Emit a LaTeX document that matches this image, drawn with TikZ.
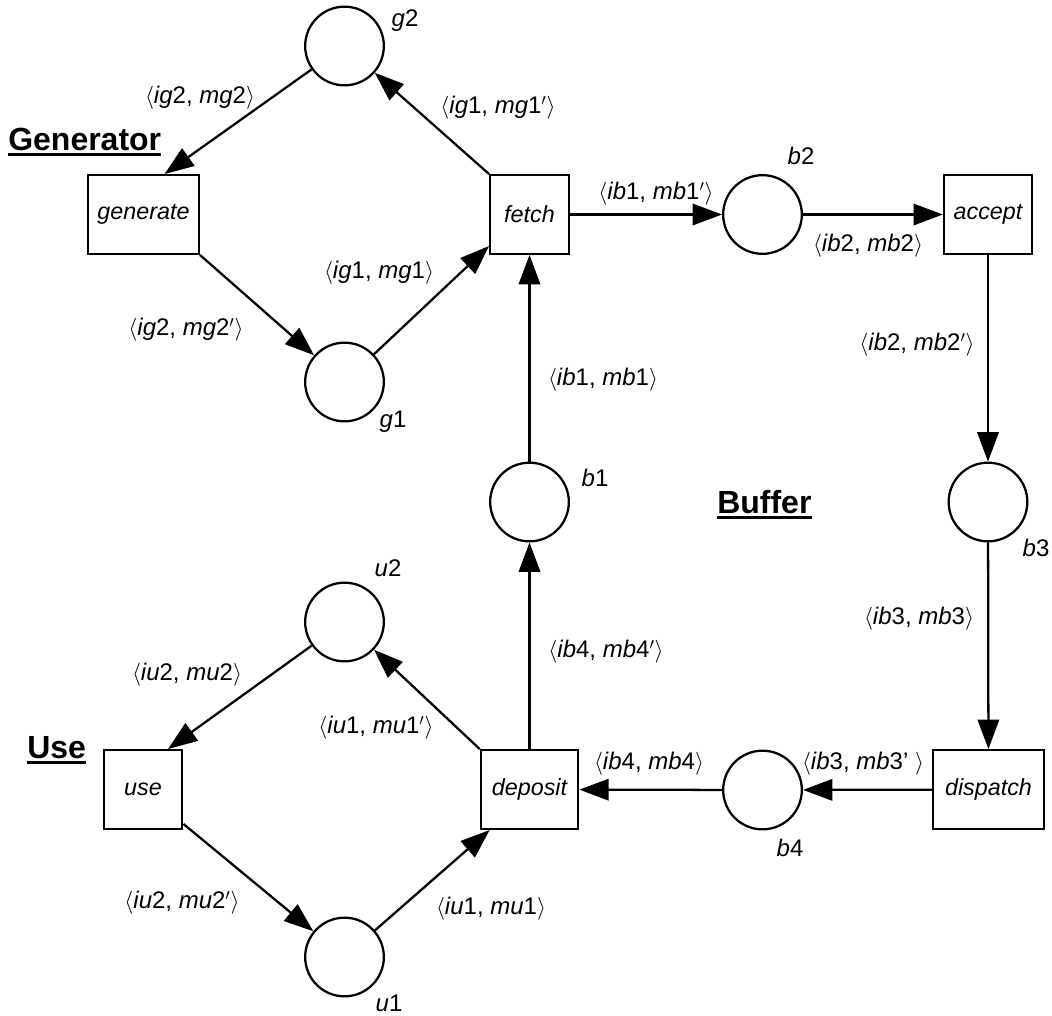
\documentclass[tikz,border=0pt]{standalone}
\usepackage{fontspec}
\setmainfont{Liberation Sans}
\usetikzlibrary{arrows.meta,calc}
\newcommand\arclab[1]{$\langle$#1$\rangle$}
\newcommand\pr{$'$}
\begin{document}
\begin{tikzpicture}[x=0.75pt,y=-0.75pt,
  place/.style={circle,draw,line width=1.7pt,minimum size=59pt,inner sep=0pt},
  trans/.style={rectangle,draw,line width=1.7pt,minimum height=59pt,inner sep=0pt,
    font=\fontsize{17.5}{21}\selectfont\itshape},
  arc/.style={line width=1.7pt,-{Triangle[length=22pt,width=16pt]}},
  lbl/.style={inner sep=0pt,font=\fontsize{18}{21}\selectfont},
  sect/.style={inner sep=0pt,anchor=base west,font=\fontsize{24}{28}\selectfont\bfseries},
  uline/.style={line width=2.6pt}]
\useasboundingbox (0,0) rectangle (1052,1015);

% places
\node[place] (g2) at (344.5,46) {};
\node[place] (g1) at (344.5,382) {};
\node[place] (b2) at (762.5,214.5) {};
\node[place] (b3) at (988,502) {};
\node[place] (b1) at (529.5,502) {};
\node[place] (u2) at (344.5,622) {};
\node[place] (u1) at (344.5,957) {};
\node[place] (b4) at (762.5,790) {};

% transitions
\node[trans,minimum width=83pt] (generate) at (143.5,214.5) {generate};
\node[trans,minimum width=59pt] (fetch) at (529.5,214.5) {fetch};
\node[trans,minimum width=66pt] (accept) at (988,214.5) {accept};
\node[trans,minimum width=59pt] (use) at (143,789.5) {use};
\node[trans,minimum width=73pt] (deposit) at (529.5,789.5) {deposit};
\node[trans,minimum width=83pt] (dispatch) at (988.5,789.5) {dispatch};

% place names
\node[lbl] (ng2) at (405,21) {\textit{g}2};
\node[lbl] (ng1) at (393,422) {\textit{g}1};
\node[lbl] (nb2) at (801,156) {\textit{b}2};
\node[lbl] (nb1) at (595,478) {\textit{b}1};
\node[lbl] (nb3) at (1036,548) {\textit{b}3};
\node[lbl] (nu2) at (388,568) {\textit{u}2};
\node[lbl] (nu1) at (389,1003) {\textit{u}1};
\node[lbl] (nb4) at (790,848) {\textit{b}4};

% section titles
\node[sect] (tgen) at (8,150) {Generator};
\node[sect] (tuse) at (27,758) {Use};
\node[sect] (tbuf) at (717,513) {Buffer};
\draw[uline] ($(tgen.base west)+(0,4.5)$) -- ($(tgen.base east)+(0,4.5)$);
\draw[uline] ($(tuse.base west)+(0,4.5)$) -- ($(tuse.base east)+(0,4.5)$);
\draw[uline] ($(tbuf.base west)+(0,4.5)$) -- ($(tbuf.base east)+(0,4.5)$);

% arcs
\draw[arc] (g2) -- ($(generate.north)+(21,0)$);
\draw[arc] (generate.south east) -- (g1);
\draw[arc] (g1) -- ($(fetch.south west)+(0,-9)$);
\draw[arc] (fetch.north west) -- (g2);
\draw[arc] (fetch) -- (b2);
\draw[arc] (b2) -- (accept);
\draw[arc] (accept) -- (b3);
\draw[arc] (b3) -- (dispatch);
\draw[arc] (dispatch) -- (b4);
\draw[arc] (b4) -- (deposit);
\draw[arc] (deposit) -- (b1);
\draw[arc] (b1) -- (fetch);
\draw[arc] (u2) -- ($(use.north)+(25,0)$);
\draw[arc] ($(use.south east)+(0,-6)$) -- (u1);
\draw[arc] (u1) -- ($(deposit.south west)+(10,0)$);
\draw[arc] (deposit.north west) -- (u2);

% arc inscriptions
\node[lbl] (l1) at (200,98) {\arclab{\textit{ig}2, \textit{mg}2}};
\node[lbl] (l2) at (498,108) {\arclab{\textit{ig}1, \textit{mg}1\pr}};
\node[lbl] (l3) at (379,273) {\arclab{\textit{ig}1, \textit{mg}1}};
\node[lbl] (l4) at (186,330) {\arclab{\textit{ig}2, \textit{mg}2\pr}};
\node[lbl] (l5) at (656,194) {\arclab{\textit{ib}1, \textit{mb}1\pr}};
\node[lbl] (l6) at (868,246) {\arclab{\textit{ib}2, \textit{mb}2}};
\node[lbl] (l7) at (917,345) {\arclab{\textit{ib}2, \textit{mb}2\pr}};
\node[lbl] (l8) at (603,380) {\arclab{\textit{ib}1, \textit{mb}1}};
\node[lbl] (l9) at (919,619) {\arclab{\textit{ib}3, \textit{mb}3}};
\node[lbl] (l10) at (606,652) {\arclab{\textit{ib}4, \textit{mb}4\pr}};
\node[lbl] (l11) at (649,764) {\arclab{\textit{ib}4, \textit{mb}4}};
\node[lbl] (l12) at (863,764) {\arclab{\textit{ib}3, \textit{mb}3' }};
\node[lbl] (l13) at (187,675) {\arclab{\textit{iu}2, \textit{mu}2}};
\node[lbl] (l14) at (376,728) {\arclab{\textit{iu}1, \textit{mu}1\pr}};
\node[lbl] (l15) at (182,903) {\arclab{\textit{iu}2, \textit{mu}2\pr}};
\node[lbl] (l16) at (491,909) {\arclab{\textit{iu}1, \textit{mu}1}};
\end{tikzpicture}
\end{document}
